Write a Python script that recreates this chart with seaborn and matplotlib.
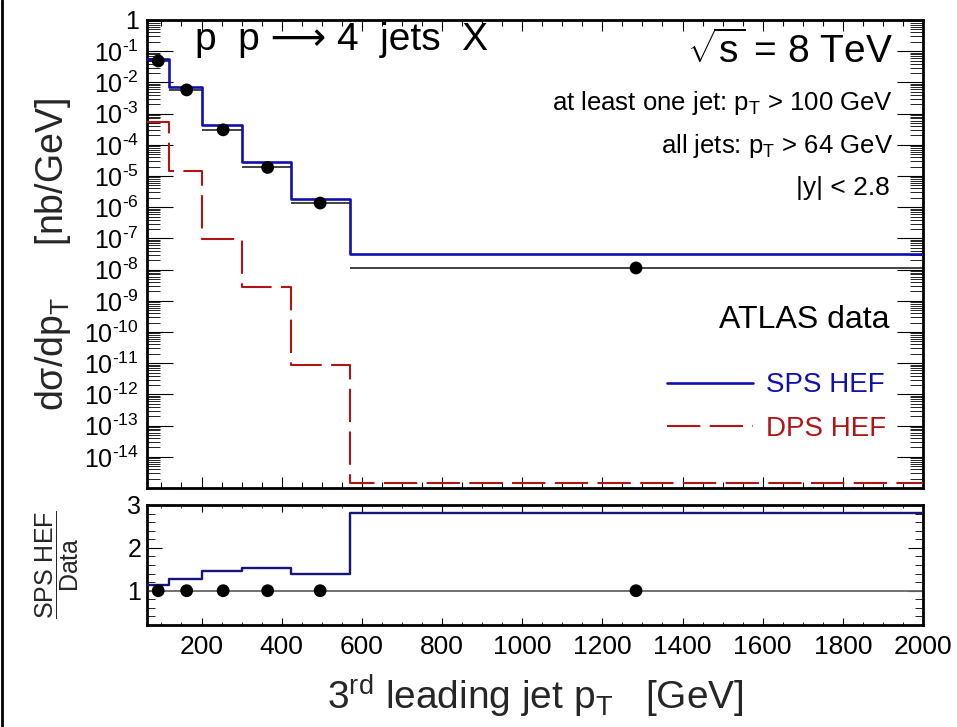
import numpy as np
import pandas as pd
import matplotlib
matplotlib.use("Agg")
import matplotlib.pyplot as plt
import seaborn as sns
from matplotlib.ticker import MultipleLocator, LogLocator, FuncFormatter, NullFormatter
from matplotlib.lines import Line2D

# Bin edges of the 3rd leading jet pT [GeV]
bin_edges = [64, 120, 202, 302, 424, 570, 2000]
# ATLAS data: mean pT in each bin and dsigma/dpT [nb/GeV]
data_pt = [92, 163, 254, 365, 496, 1284]
data_xsec = [4.88e-2, 5.75e-3, 3.02e-4, 1.88e-5, 1.36e-6, 1.13e-8]
# High-energy-factorisation predictions [nb/GeV]
sps_hef = [5.55e-2, 7.3e-3, 4.44e-4, 2.88e-5, 1.90e-6, 3.17e-8]
dps_hef = [5.57e-4, 1.40e-5, 9.8e-8, 2.7e-9, 8.5e-12, 1.5e-15]

BLUE = "#1010b0"
NAVY = "#16167a"
RED = "#b01414"

sns.set_theme(style="white")
plt.rcParams["font.family"] = ["Liberation Sans", "DejaVu Sans"]
plt.rcParams.update({
    "mathtext.fontset": "custom",
    "mathtext.rm": "Liberation Sans",
    "mathtext.it": "Liberation Sans:italic",
    "mathtext.bf": "Liberation Sans:bold",
    "axes.edgecolor": "black",
    "axes.linewidth": 2.0,
    "xtick.color": "black",
    "ytick.color": "black",
    "text.color": "black",
})

fig = plt.figure(figsize=(9.57, 7.27), dpi=100)
fig.patch.set_facecolor("white")
ax = fig.add_axes([0.1536, 0.3287, 0.8109, 0.6438])
rax = fig.add_axes([0.1536, 0.1403, 0.8109, 0.1651])

def steps(values):
    return pd.DataFrame({"pt": bin_edges, "val": list(values) + [values[-1]]})

# ---- upper panel: differential cross section ----
ax.set_yscale("log")
sns.lineplot(data=steps(sps_hef), x="pt", y="val", drawstyle="steps-post",
             color=BLUE, lw=1.9, label="SPS HEF", ax=ax, zorder=3)
sns.lineplot(data=steps(dps_hef), x="pt", y="val", drawstyle="steps-post",
             color=RED, lw=1.5, label="DPS HEF", ax=ax, zorder=3)
ax.lines[1].set_linestyle((0, (16, 4.5)))
ax.hlines(data_xsec, bin_edges[:-1], bin_edges[1:], color="#222222", lw=1.2, zorder=2)
sns.scatterplot(x=data_pt, y=data_xsec, color="black", s=85, edgecolor="none",
                ax=ax, zorder=5)

ax.set_xlim(64, 2000)
ax.set_ylim(1e-15, 1)
ax.xaxis.set_major_locator(MultipleLocator(200))
ax.xaxis.set_minor_locator(MultipleLocator(50))
ax.yaxis.set_major_locator(LogLocator(base=10, numticks=40))
ax.yaxis.set_minor_locator(LogLocator(base=10, subs=np.arange(2, 10), numticks=40))
ax.yaxis.set_minor_formatter(NullFormatter())

def decade_label(v, pos):
    e = int(round(np.log10(v)))
    if e == 0:
        return "1"
    if e < -14:
        return ""
    return r"$\mathregular{10^{\text{-}%d}}$" % (-e)

ax.yaxis.set_major_formatter(FuncFormatter(decade_label))
ax.tick_params(axis="y", which="major", direction="in", length=18.5, width=0.8,
               left=True, right=True, labelsize=18, pad=6)
ax.tick_params(axis="y", which="minor", direction="in", length=9.5, width=0.6,
               left=True, right=True)
ax.tick_params(axis="x", which="major", direction="in", length=8, width=0.8,
               top=True, bottom=True, labelbottom=False)
ax.tick_params(axis="x", which="minor", direction="in", length=4, width=0.8,
               top=True, bottom=True)
ax.set_xlabel("")
ax.set_ylabel("dσ/dp$_{\\mathrm{T}}$     [nb/GeV]", fontsize=27)
ax.yaxis.set_label_coords(-0.095, 0.5)

ax.text(0.062, 0.936, "p  p ⟶ 4  jets  X", transform=ax.transAxes,
        fontsize=28, ha="left", va="baseline")
ax.text(0.961, 0.908, r"$\sqrt{\mathrm{s}}$ = 8 TeV", transform=ax.transAxes,
        fontsize=28, ha="right", va="baseline")
ax.text(0.961, 0.8077, "at least one jet: p$_{\\mathrm{T}}$ > 100 GeV",
        transform=ax.transAxes, fontsize=18.5, ha="right", va="baseline")
ax.text(0.961, 0.7158, "all jets: p$_{\\mathrm{T}}$ > 64 GeV",
        transform=ax.transAxes, fontsize=18.5, ha="right", va="baseline")
ax.text(0.957, 0.626, "|y| < 2.8", transform=ax.transAxes,
        fontsize=19, ha="right", va="baseline")
ax.text(0.957, 0.3419, "ATLAS data", transform=ax.transAxes,
        fontsize=23, ha="right", va="baseline")

ax.legend(loc="upper left", bbox_to_anchor=(0.670, 0.247), frameon=False,
          fontsize=20, handlelength=3.1, handletextpad=0.45, labelspacing=0.64,
          borderpad=0, borderaxespad=0, labelcolor="linecolor")

# ---- lower panel: prediction over data ----
ratio_sps = [s / d for s, d in zip(sps_hef, data_xsec)]
ratio_data = [d / d for d in data_xsec]
rax.axhline(1.0, color="#666666", lw=1.3, zorder=1)
sns.lineplot(data=steps(ratio_sps), x="pt", y="val", drawstyle="steps-post",
             color=NAVY, lw=1.7, ax=rax, zorder=3)
sns.scatterplot(x=data_pt, y=ratio_data, color="black", s=85, edgecolor="none",
                ax=rax, zorder=5)
rax.set_xlim(64, 2000)
rax.set_ylim(0.2, 3)
rax.xaxis.set_major_locator(MultipleLocator(200))
rax.xaxis.set_minor_locator(MultipleLocator(50))
rax.yaxis.set_major_locator(MultipleLocator(1))
rax.yaxis.set_minor_locator(MultipleLocator(0.2))
rax.yaxis.set_major_formatter(FuncFormatter(lambda v, p: "%d" % round(v)))
rax.tick_params(axis="y", which="major", direction="in", length=10.5, width=0.8,
                left=True, right=True, labelsize=18, pad=4)
rax.tick_params(axis="y", which="minor", direction="in", length=5.5, width=0.6,
                left=True, right=True)
rax.tick_params(axis="x", which="major", direction="in", length=5, width=0.8,
                top=True, bottom=True, labelsize=19, pad=7)
rax.tick_params(axis="x", which="minor", direction="in", length=2.5, width=0.6,
                top=True, bottom=True)
rax.set_ylabel(r"$\dfrac{\mathrm{SPS\ HEF}}{\mathrm{Data}}$", fontsize=18)
rax.yaxis.set_label_coords(-0.085, 0.5)
rax.set_xlabel(r"3$^{\mathrm{rd}}$ leading jet p$_{\mathrm{T}}$   [GeV]",
               fontsize=28, labelpad=10)

fig.add_artist(Line2D([0.002, 0.002], [0, 1], transform=fig.transFigure,
                      color="black", lw=2))

fig.savefig("out.png", dpi=100, facecolor="white")
